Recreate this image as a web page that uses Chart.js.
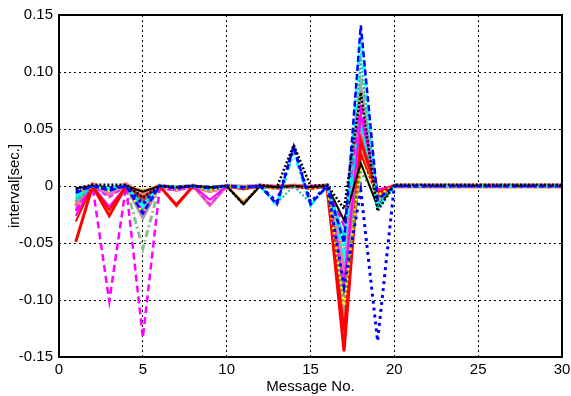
<!DOCTYPE html>
<html><head><meta charset="utf-8">
<script src="https://cdn.jsdelivr.net/npm/chart.js@4/dist/chart.umd.min.js"></script>
<style>html,body{margin:0;padding:0;background:#fff}#wrap{width:571px;height:396px}</style>
</head><body><div id="wrap"><canvas id="c" width="571" height="396"></canvas></div>
<script>
const messageNo = [1,2,3,4,5,6,7,8,9,10,11,12,13,14,15,16,17,18,19,20,21,22,23,24,25,26,27,28,29,30];
const xTickLabels = ['0','5','10','15','20','25','30'];
const yTickLabels = ['-0.15','-0.10','-0.05','0','0.05','0.10','0.15'];

const blackDot   = [-0.002,0.001,0.001,0.001,-0.010,0,-0.001,0,-0.001,0,-0.016,0.001,-0.001,0.036,0,0.001,-0.020,0.082,-0.022,0.001,0.001,0.001,0.001,0.001,0.001,0.001,0.001,0.001,0.001,0.001];
const blueDot    = [-0.004,0,-0.002,0,-0.016,0,-0.001,0,-0.001,0,-0.001,0,-0.014,0.034,-0.014,0,-0.088,-0.004,-0.136,0,0,0,0,0,0,0,0,0,0,0];
const blueDash   = [-0.006,0,-0.004,0,-0.024,0,-0.002,0,-0.002,0,-0.001,0,-0.016,0.035,-0.016,0,-0.050,0.141,-0.012,0,0,0,0,0,0,0,0,0,0,0];
const cyanDashDot= [-0.008,0,-0.002,0,-0.018,0,-0.001,0,-0.003,0,-0.001,0,-0.017,0.030,-0.017,0,-0.060,0.132,-0.020,0,0,0,0,0,0,0,0,0,0,0];
const blackSolid = [-0.002,0,-0.001,0,-0.005,0,-0.001,0,-0.001,0,-0.016,0,-0.001,0,-0.001,0,-0.030,0.020,-0.018,0,0,0,0,0,0,0,0,0,0,0];
const red1       = [-0.049,0,-0.026,0,-0.012,0,-0.017,0,-0.003,0,-0.002,0,-0.001,0,-0.002,0,-0.145,0.040,-0.006,0,0,0,0,0,0,0,0,0,0,0];
const red2       = [-0.031,0,-0.021,0,-0.010,0,-0.016,0,-0.002,0,-0.003,0,-0.002,0,-0.002,0,-0.125,0.028,-0.010,0,0,0,0,0,0,0,0,0,0,0];
const magDash    = [-0.022,0,-0.101,0,-0.133,-0.003,-0.003,-0.002,-0.002,-0.002,-0.001,0,0,0,0,0,-0.035,0.072,-0.004,0,0,0,0,0,0,0,0,0,0,0];
const magSolid   = [-0.026,0,-0.018,0,-0.022,0,-0.003,0,-0.012,0,-0.002,0,-0.002,0,-0.002,0,-0.090,0.062,-0.003,0,0,0,0,0,0,0,0,0,0,0];
const sageDashDot= [-0.012,0,-0.006,0,-0.055,0,-0.002,0,-0.002,0,-0.002,0,-0.002,0,-0.002,0,-0.070,0.096,-0.012,0,0,0,0,0,0,0,0,0,0,0];
const yellowDot  = [-0.008,0,-0.004,0,-0.024,0,-0.003,0,-0.004,0,-0.001,0,-0.002,0,-0.002,0,-0.105,0.022,-0.008,0,0,0,0,0,0,0,0,0,0,0];
const greenDot   = [-0.014,0,-0.003,0,-0.020,0,-0.002,0,-0.003,0,-0.002,0,-0.002,0,-0.002,0,-0.095,0.012,-0.010,0,0,0,0,0,0,0,0,0,0,0];
const pinkSolid  = [-0.016,0,-0.008,0,-0.014,0,-0.004,0,-0.017,0,-0.002,0,-0.002,0,-0.002,0,-0.075,0.052,-0.008,0,0,0,0,0,0,0,0,0,0,0];
const graySolid  = [-0.010,0,-0.002,0,-0.028,0,-0.001,0,-0.002,0,-0.001,0,-0.001,0,-0.001,0,-0.080,0.088,-0.014,0,0,0,0,0,0,0,0,0,0,0];
const orangeSolid= [-0.006,0,-0.001,0,-0.004,0,-0.002,0,-0.002,0,-0.014,0,-0.001,0,-0.001,0,-0.065,0.045,-0.004,0,0,0,0,0,0,0,0,0,0,0];
const salmonThick= [-0.018,0.001,-0.004,0.001,-0.008,0,-0.002,0,-0.004,0,-0.001,0,-0.001,0,-0.001,0,-0.110,0.035,-0.006,0,0,0,0,0,0,0,0,0,0,0];
const purpleDash = [-0.020,0,-0.010,0,-0.026,0,-0.002,0,-0.016,0,-0.002,0,-0.002,0,-0.002,0,-0.085,0.066,-0.006,0,0,0,0,0,0,0,0,0,0,0];
const tealDot    = [-0.005,0,-0.002,0,-0.012,0,-0.001,0,-0.002,0,-0.001,0,-0.015,0,-0.015,0,-0.055,0.110,-0.016,0,0,0,0,0,0,0,0,0,0,0];
const cyanSolid  = [-0.012,0,-0.003,0,-0.016,0,-0.002,0,-0.002,0,-0.001,0,-0.002,0,-0.002,0,-0.045,0.058,-0.018,0,0,0,0,0,0,0,0,0,0,0];
const graySolid2 = [-0.014,0,-0.005,0,-0.018,0,-0.002,0,-0.002,0,-0.001,0,-0.002,0,-0.002,0,-0.100,0.050,-0.012,0,0,0,0,0,0,0,0,0,0,0];

const seriesDefs = [
  ['blackDot', blackDot, '#000000', [2,2], 2.5],
  ['blueDot', blueDot, '#0000ff', [3,4], 3],
  ['blueDash', blueDash, '#0000ff', [6,3], 2.5],
  ['cyanDashDot', cyanDashDot, '#00ffff', [7,3,2,3], 3],
  ['tealDot', tealDot, '#20b2aa', [2,2], 2],
  ['blackSolid', blackSolid, '#000000', [], 2],
  ['yellowDot', yellowDot, '#ffff00', [2,3], 2.5],
  ['greenDot', greenDot, '#33cc33', [2,3], 2.5],
  ['red1', red1, '#ff0000', [], 3],
  ['red2', red2, '#ff0000', [], 2],
  ['magDash', magDash, '#ff00ff', [7,4], 2.5],
  ['magSolid', magSolid, '#ff00ff', [], 2],
  ['cyanSolid', cyanSolid, '#00e5ee', [], 2.5],
  ['purpleDash', purpleDash, '#cc33ff', [5,3], 2],
  ['pinkSolid', pinkSolid, '#ff69b4', [], 3],
  ['orangeSolid', orangeSolid, '#ff8c00', [], 2],
  ['sageDashDot', sageDashDot, '#8fbc8f', [7,3,2,3], 3],
  ['graySolid', graySolid, '#a0a0a0', [], 3],
  ['graySolid2', graySolid2, '#909090', [], 3],
  ['salmonThick', salmonThick, '#fa8072', [], 5]
];

const datasets = seriesDefs.map(([name, vals, color, dash, w]) => ({
  label: name,
  data: messageNo.map((m, i) => ({x: m, y: vals[i]})),
  borderColor: color,
  borderDash: dash,
  borderWidth: w,
  pointRadius: 0,
  tension: 0,
  fill: false
}));

const frame = {
  id: 'frame',
  afterDraw(chart) {
    const {ctx, chartArea: a} = chart;
    ctx.save();
    ctx.strokeStyle = '#000';
    ctx.lineWidth = 2;
    ctx.setLineDash([]);
    ctx.strokeRect(a.left, a.top, a.right - a.left, a.bottom - a.top);
    ctx.restore();
  }
};

const font = {family: '"Liberation Sans", Arial, sans-serif', size: 15};

new Chart(document.getElementById('c'), {
  type: 'line',
  data: {datasets},
  options: {
    responsive: false,
    animation: false,
    layout: {padding: {left: 6, right: 9, top: 15, bottom: 0}},
    plugins: {legend: {display: false}, tooltip: {enabled: false}},
    scales: {
      x: {
        type: 'linear', min: 0, max: 30,
        afterFit(s) { s.height = 39; s.paddingRight = 0; },
        ticks: {stepSize: 5, color: '#000', font, padding: 4,
          callback: (v) => xTickLabels[Math.round(v / 5)] ?? ''},
        grid: {color: '#000', lineWidth: 1, drawTicks: false},
        border: {display: false, dash: [2, 3]},
        title: {display: true, text: 'Message No.', color: '#000', font, padding: {top: 0, bottom: 0}}
      },
      y: {
        type: 'linear', min: -0.15, max: 0.15,
        afterFit(s) { s.width = 53; },
        ticks: {stepSize: 0.05, color: '#000', font, padding: 6,
          callback: (v) => yTickLabels[Math.round((v + 0.15) / 0.05)] ?? ''},
        grid: {color: '#000', lineWidth: 1, drawTicks: false},
        border: {display: false, dash: [2, 3]},
        title: {display: true, text: 'interval[sec.]', color: '#000', font, padding: {top: 0, bottom: 0}}
      }
    }
  },
  plugins: [frame]
});
</script>
</body></html>
